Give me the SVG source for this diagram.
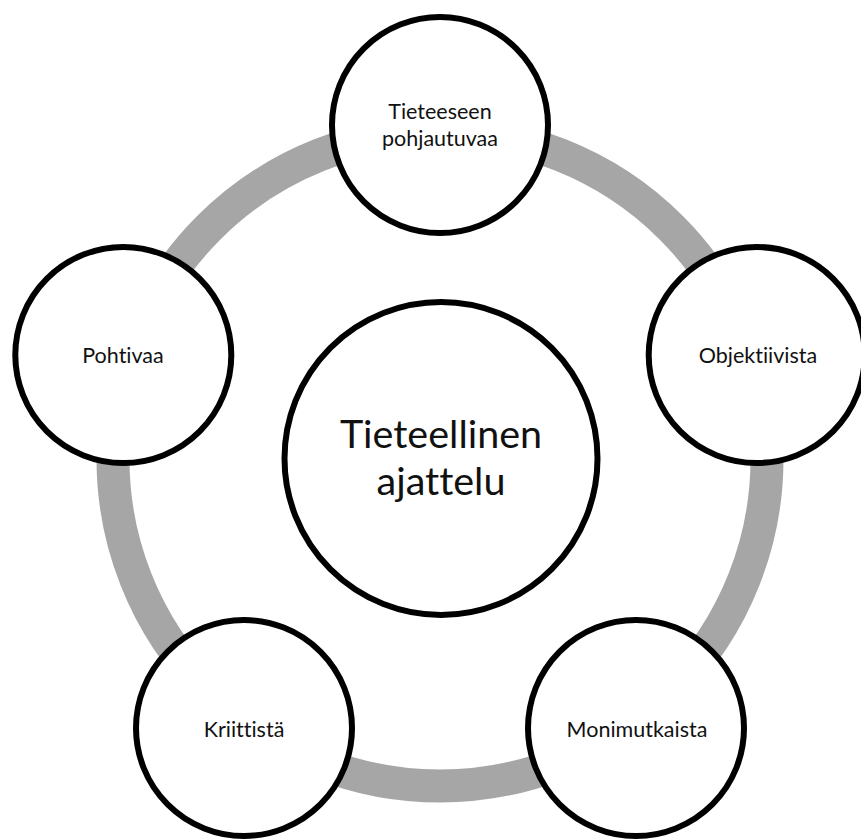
<svg xmlns="http://www.w3.org/2000/svg" width="861" height="839" viewBox="0 0 861 839">
<style>
.node{fill:#fff;stroke:#000;stroke-width:6}
.lbl{font-family:Lato,"Liberation Sans",sans-serif;font-size:21.5px;fill:#111;text-anchor:middle;font-variant-ligatures:none}
.big{font-family:Lato,"Liberation Sans",sans-serif;font-size:39.5px;fill:#111;text-anchor:middle;font-variant-ligatures:none}
.ring{fill:none;stroke:#a6a6a6;stroke-width:33}
</style>
<rect width="861" height="839" fill="#fff"/>
<g id="connectors">
<circle class="ring" cx="440" cy="459" r="327"/>
</g>
<g id="center">
<circle class="node" cx="441" cy="458.5" r="156.5"/>
<text class="big" x="441" y="448">Tieteellinen</text>
<text class="big" x="441" y="495">ajattelu</text>
</g>
<g id="top">
<circle class="node" cx="440" cy="125" r="108"/>
<text class="lbl" x="440" y="119">Tieteeseen</text>
<text class="lbl" x="440" y="146">pohjautuvaa</text>
</g>
<g id="right">
<circle class="node" cx="756.7" cy="355" r="108"/>
<text class="lbl" x="758" y="363">Objektiivista</text>
</g>
<g id="bottom-right">
<circle class="node" cx="636" cy="728" r="108"/>
<text class="lbl" x="637" y="737">Monimutkaista</text>
</g>
<g id="bottom-left">
<circle class="node" cx="244" cy="728" r="108"/>
<text class="lbl" x="244" y="737">Kriittistä</text>
</g>
<g id="left">
<circle class="node" cx="123.3" cy="355" r="108"/>
<text class="lbl" x="123" y="363">Pohtivaa</text>
</g>
</svg>
